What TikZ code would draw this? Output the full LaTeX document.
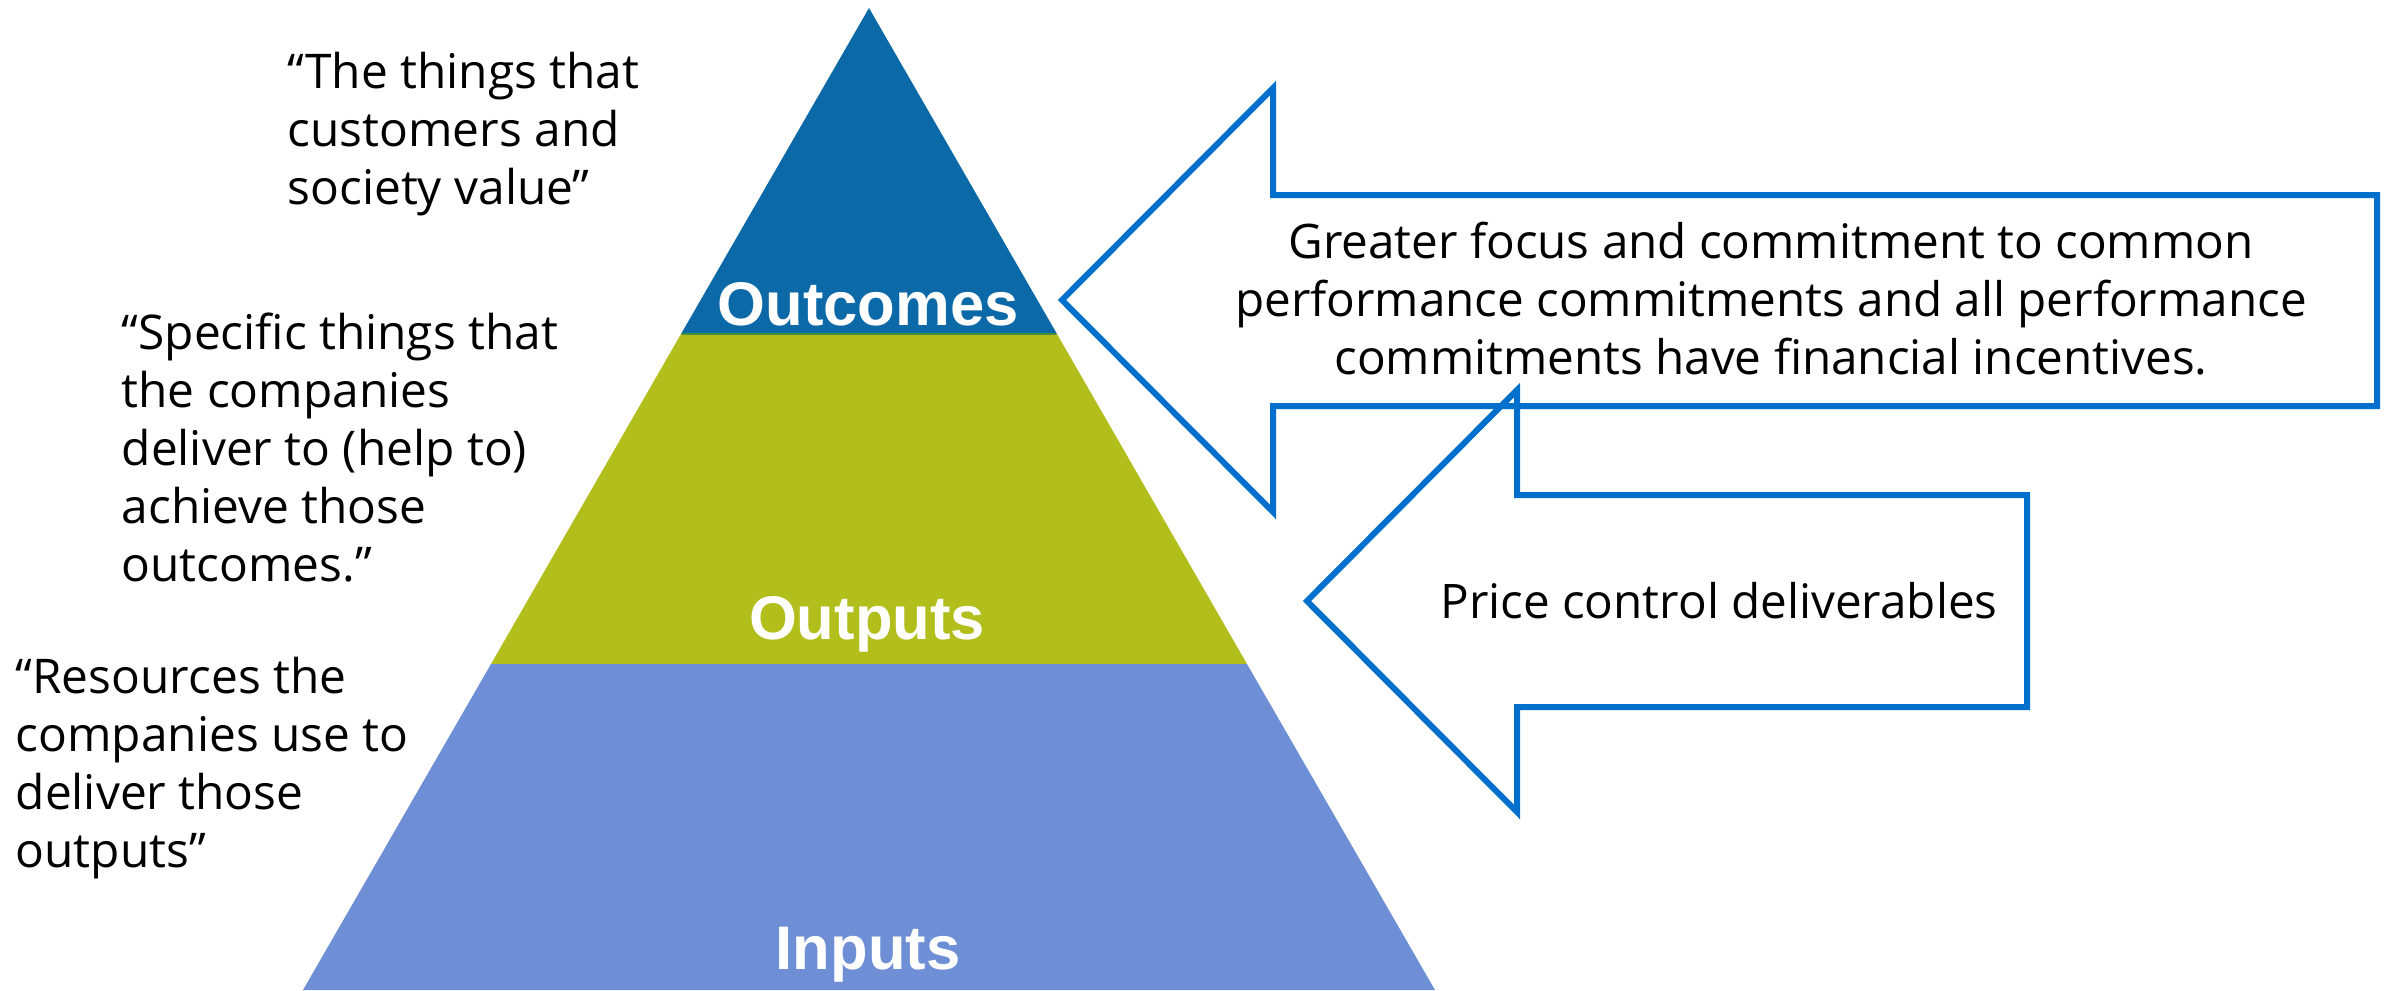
\documentclass[tikz,border=0pt]{standalone}
\usepackage{fontspec}
\setmainfont{Open Sans}
\newfontfamily\labelfont{Liberation Sans}
\definecolor{outcomeblue}{RGB}{11,105,168}
\definecolor{outputgreen}{RGB}{177,190,27}
\definecolor{inputblue}{RGB}{110,143,213}
\definecolor{arrowblue}{RGB}{0,112,204}
\definecolor{seamgreen}{RGB}{70,140,60}
\newcommand\leftblock[1]{\vtop{\baselineskip=16.5pt\halign{##\hfil\cr#1\crcr}}}
\newcommand\centerblock[1]{\vtop{\baselineskip=16.5pt\halign{\hfil##\hfil\cr#1\crcr}}}
\begin{document}
\begin{tikzpicture}[x=0.01cm,y=-0.01cm,
  quote/.style={anchor=base west,inner sep=0pt,font=\fontsize{13.6pt}{16.5pt}\selectfont},
  tierlabel/.style={anchor=base,inner sep=0pt,text=white,font=\labelfont\bfseries\fontsize{17.5pt}{20pt}\selectfont},
  arrowline/.style={draw=arrowblue,line width=1.7pt,line join=miter},
  arrowtext/.style={anchor=base,inner sep=0pt,font=\fontsize{13.54pt}{16.5pt}\selectfont}]
\useasboundingbox (0,0) rectangle (2390,990);
\fill[white] (0,0) rectangle (2390,990);
% pyramid
\coordinate (apex) at (869,8);
\coordinate (bl) at (303,990);
\coordinate (br) at (1435,990);
\fill[outcomeblue] (apex) -- (681,334) -- (1057,334) -- cycle;
\fill[outputgreen] (681,334) -- (491,664) -- (1247,664) -- (1057,334) -- cycle;
\fill[inputblue] (491,664) -- (bl) -- (br) -- (1247,664) -- cycle;
\draw[seamgreen,line width=0.6pt] (682,334) -- (1056,334);
\node[tierlabel] (outcomes) at (868,325) {Outcomes};
\node[tierlabel] (outputs) at (867,639) {Outputs};
\node[tierlabel] (inputs) at (868,969) {Inputs};
% quotes
\node[quote] (q1) at (287,88) {\leftblock{“The things that\cr customers and\cr society value”}};
\node[quote] (q2) at (121,349) {\leftblock{“Specific things that\cr the companies\cr deliver to (help to)\cr achieve those\cr outcomes.”}};
\node[quote] (q3) at (15,693) {\leftblock{“Resources the\cr companies use to\cr deliver those\cr outputs”}};
% arrows
\fill[white] (1062,300) -- (1273,88) -- (1273,195) -- (2377,195) -- (2377,406) -- (1273,406) -- (1273,512) -- cycle;
\fill[white] (1307,601) -- (1517,390) -- (1517,495) -- (2027,495) -- (2027,707) -- (1517,707) -- (1517,812) -- cycle;
\draw[arrowline] (1062,300) -- (1273,88) -- (1273,195) -- (2377,195) -- (2377,406) -- (1273,406) -- (1273,512) -- cycle;
\draw[arrowline] (1307,601) -- (1517,390) -- (1517,495) -- (2027,495) -- (2027,707) -- (1517,707) -- (1517,812) -- cycle;
\node[arrowtext] (a1text) at (1771,258) {\centerblock{Greater focus and commitment to common\cr performance commitments and all performance\cr commitments have financial incentives.}};
\node[arrowtext] (a2text) at (1719,618) {Price control deliverables};
\end{tikzpicture}
\end{document}
